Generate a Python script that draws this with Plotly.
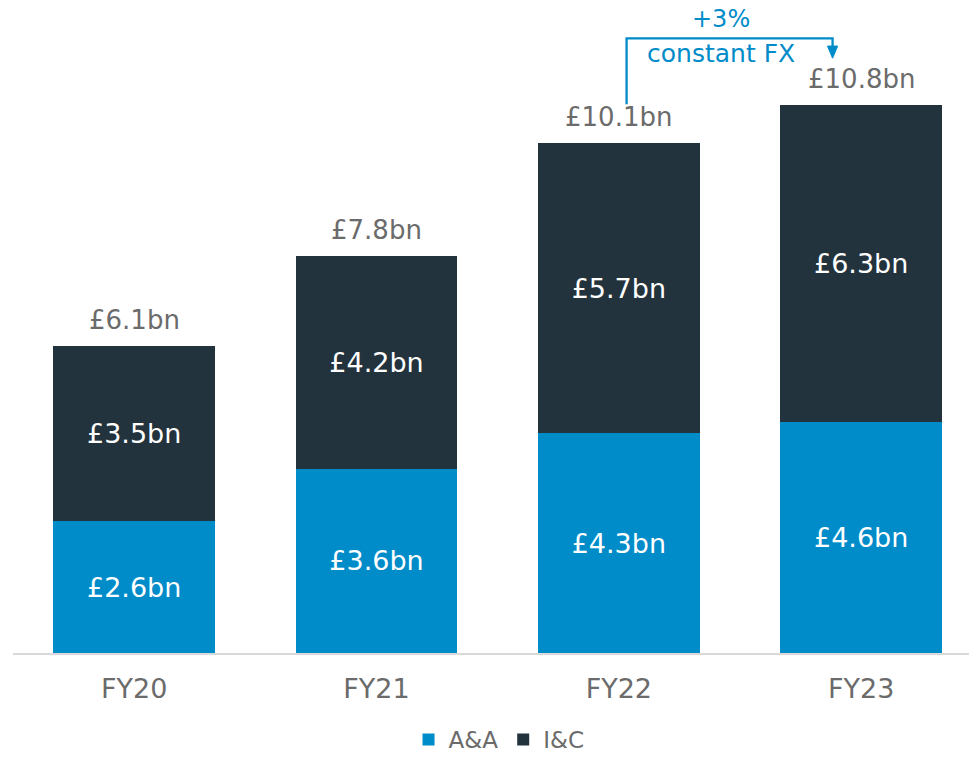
import plotly.graph_objects as go

years = ["FY20", "FY21", "FY22", "FY23"]
aa = [2.6, 3.64, 4.34, 4.56]     # A&A, £bn
ic = [3.46, 4.2, 5.74, 6.26]     # I&C, £bn
growth_label = "+3%"
growth_note = "constant FX"

totals = [a + b for a, b in zip(aa, ic)]

BLUE = "#008BC9"
DARK = "#23333D"
GREY = "#6B6B6B"
FONT = "DejaVu Sans, sans-serif"

fig = go.Figure()
fig.add_trace(go.Bar(
    x=years, y=aa, name="A&A", marker=dict(color=BLUE, line=dict(width=0)),
    text=[f"£{v:.1f}bn" for v in aa], textposition="inside", insidetextanchor="middle",
    textfont=dict(size=27, color="white", family=FONT), hoverinfo="none",
))
fig.add_trace(go.Bar(
    x=years, y=ic, name="I&C", marker=dict(color=DARK, line=dict(width=0)),
    text=[f"£{v:.1f}bn" for v in ic], textposition="inside", insidetextanchor="middle",
    textfont=dict(size=27, color="white", family=FONT), hoverinfo="none",
))

# totals above the stacks
for yr, t in zip(years, totals):
    fig.add_annotation(x=yr, y=t, text=f"£{t:.1f}bn", showarrow=False,
                       yanchor="bottom", yshift=9,
                       font=dict(size=26, color=GREY, family=FONT))

# bracket arrow FY22 -> FY23
fig.add_shape(type="path", path="M 2.032,10.84 L 2.032,12.14 L 2.882,12.14 L 2.882,11.9",
              line=dict(color=BLUE, width=2.3), xref="x", yref="y")
fig.add_shape(type="path", path="M 2.861,11.99 L 2.903,11.99 L 2.882,11.75 Z",
              fillcolor=BLUE, line=dict(color=BLUE, width=1), xref="x", yref="y")
fig.add_annotation(x=2.42, y=12.52, text=growth_label, showarrow=False,
                   font=dict(size=24, color=BLUE, family=FONT))
fig.add_annotation(x=2.42, y=11.85, text=growth_note, showarrow=False,
                   font=dict(size=25, color=BLUE, family=FONT))

fig.update_layout(
    barmode="stack", bargap=0.332,
    width=969, height=761,
    margin=dict(l=13, r=0, t=0, b=108),
    plot_bgcolor="white", paper_bgcolor="white",
    font=dict(family=FONT, color=GREY),
    xaxis=dict(range=[-0.5, 3.445], showgrid=False, zeroline=False, automargin=False,
               showline=True, linecolor="#D9D9D9", linewidth=2,
               tickfont=dict(size=27, color=GREY), ticks="", ticklabelstandoff=11),
    yaxis=dict(range=[0, 12.9], visible=False, automargin=False),
    legend=dict(orientation="h", x=0.515, xanchor="center", xref="container",
                y=0, yanchor="bottom", yref="container",
                font=dict(size=23, color=GREY), itemwidth=30, traceorder="normal"),
    uniformtext=dict(minsize=26, mode="show"),
)

# page body has a default 8px margin; drop it so the figure fills the window
fig.write_html("out.html", config={"displayModeBar": False},
               post_script="document.body.style.margin='0';")
